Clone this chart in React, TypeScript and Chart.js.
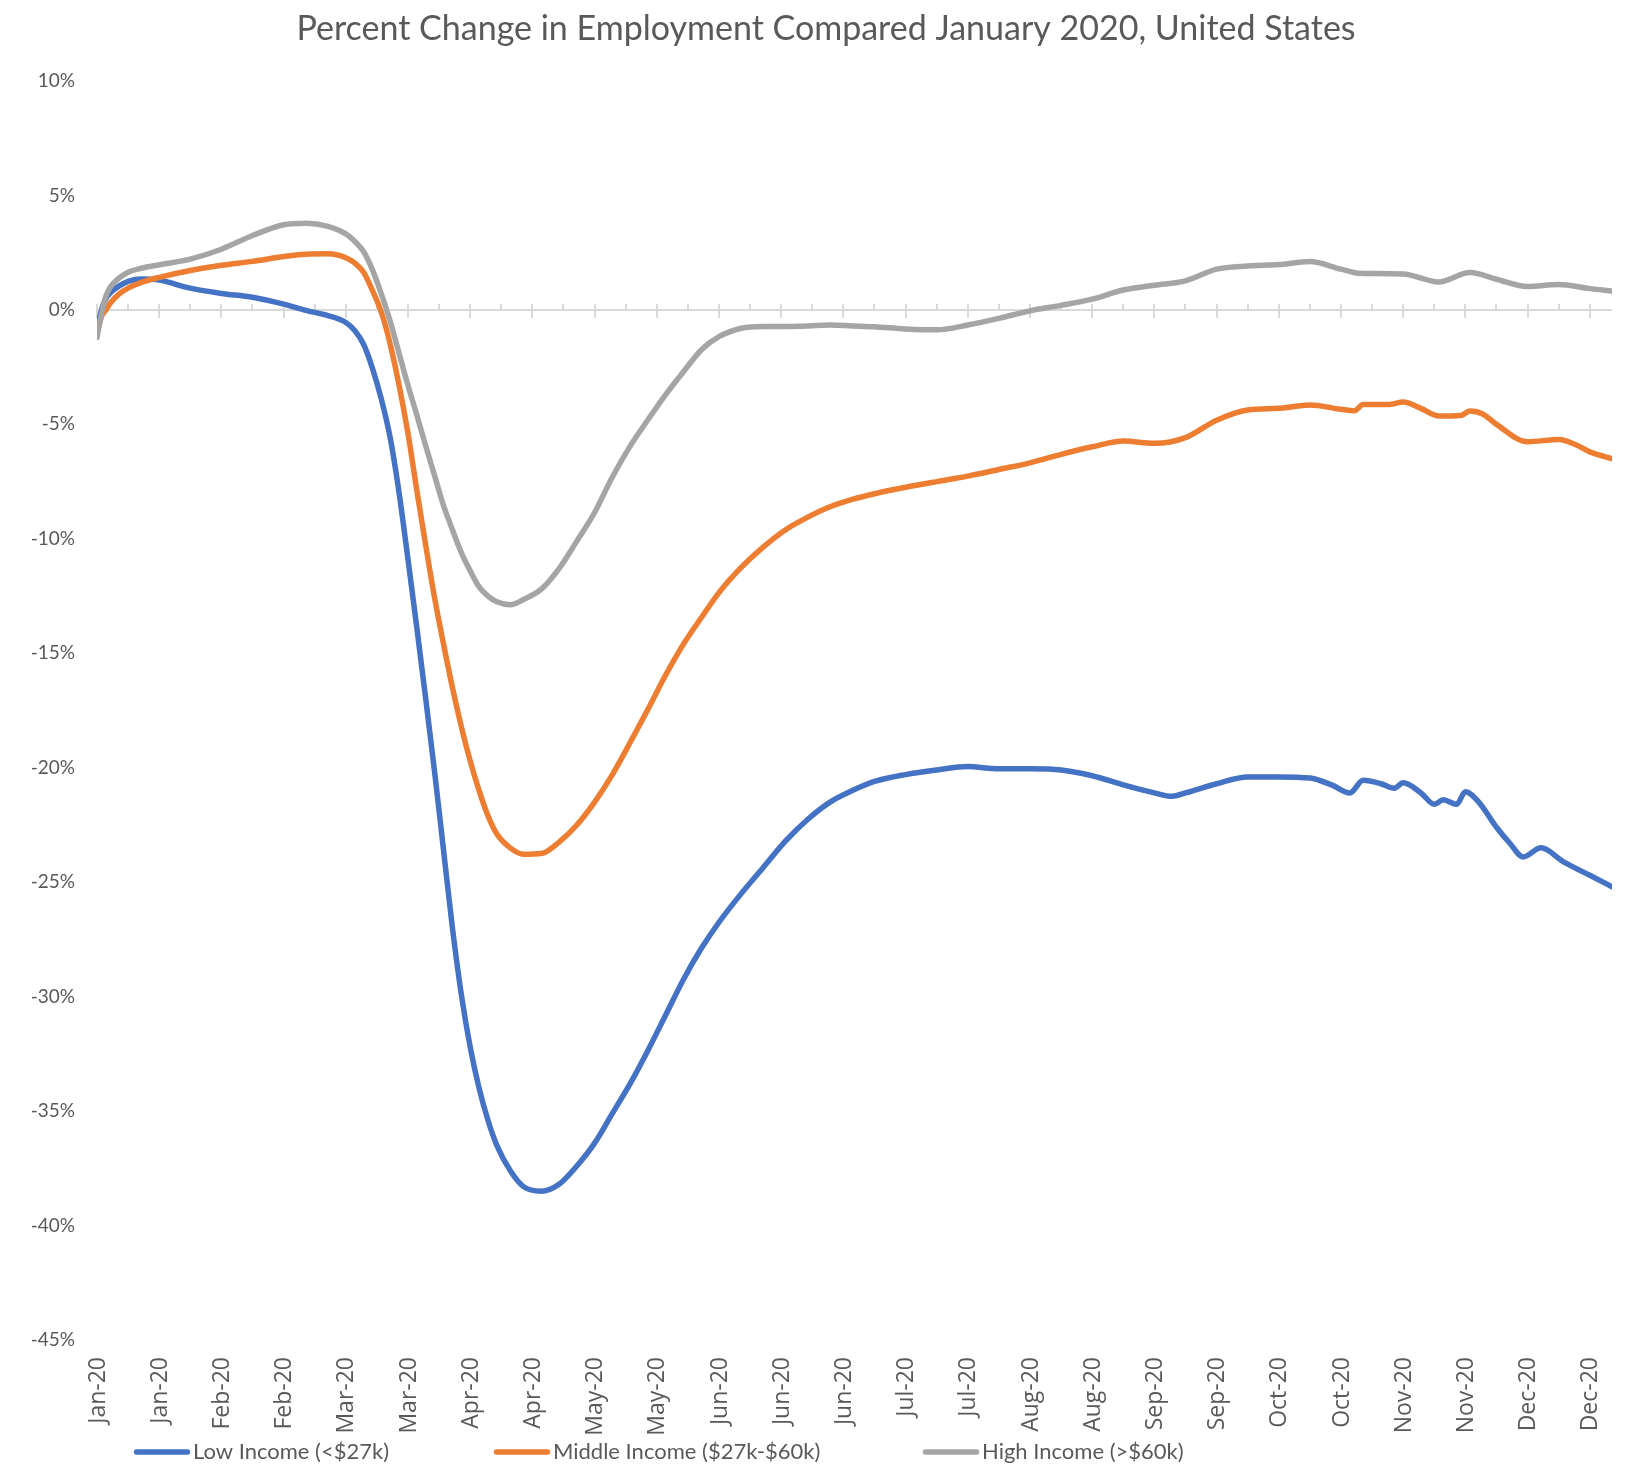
import React, { useEffect, useRef } from 'react';
import { Chart, registerables } from 'chart.js';

Chart.register(...registerables);

const chartTitle = 'Percent Change in Employment Compared January 2020, United States';
const seriesNames = ['Low Income (<$27k)', 'Middle Income ($27k-$60k)', 'High Income (>$60k)'];
const seriesColors = ['#4472C4', '#ED7D31', '#A5A5A5'];

const tickLabels = ['Jan-20', 'Jan-20', 'Feb-20', 'Feb-20', 'Mar-20', 'Mar-20', 'Apr-20', 'Apr-20', 'May-20', 'May-20', 'Jun-20', 'Jun-20', 'Jun-20', 'Jul-20', 'Jul-20', 'Aug-20', 'Aug-20', 'Sep-20', 'Sep-20', 'Oct-20', 'Oct-20', 'Nov-20', 'Nov-20', 'Dec-20', 'Dec-20'];
const labelStep = 14; // days between labels
const minorStep = 7; // days between minor ticks
const lastDay = 341;

const lowDays = [0, 1, 2, 3, 5, 7, 10, 14, 21, 28, 35, 42, 47, 52, 56, 58, 60, 62, 64, 66, 68, 70, 72, 74, 76, 78, 80, 82, 84, 86, 88, 90, 93, 96, 100, 104, 108, 112, 116, 120, 124, 128, 132, 136, 140, 145, 150, 155, 160, 165, 170, 175, 182, 189, 196, 203, 210, 217, 224, 231, 238, 242, 245, 252, 259, 266, 273, 278, 282, 285, 289, 292, 294, 298, 301, 303, 306, 308, 311, 315, 318, 321, 325, 330, 336, 341];
const lowValues = [-0.9, 0.0, 0.5, 0.75, 1.05, 1.25, 1.35, 1.3, 0.95, 0.72, 0.55, 0.25, -0.02, -0.25, -0.55, -0.9, -1.5, -2.55, -3.9, -5.6, -8.0, -10.9, -13.9, -17.0, -20.2, -23.6, -27.0, -29.9, -32.2, -34.0, -35.4, -36.5, -37.6, -38.3, -38.5, -38.2, -37.4, -36.4, -35.1, -33.8, -32.35, -30.8, -29.25, -27.9, -26.75, -25.5, -24.35, -23.2, -22.25, -21.5, -21.0, -20.6, -20.3, -20.1, -19.95, -20.05, -20.05, -20.1, -20.35, -20.75, -21.1, -21.25, -21.1, -20.7, -20.4, -20.4, -20.45, -20.76, -21.1, -20.55, -20.7, -20.9, -20.66, -21.1, -21.6, -21.4, -21.6, -21.05, -21.5, -22.6, -23.3, -23.9, -23.5, -24.1, -24.7, -25.2];

const midDays = [0, 1, 2, 3, 5, 7, 10, 14, 21, 28, 35, 42, 47, 52, 56, 58, 60, 62, 64, 66, 68, 70, 72, 74, 76, 78, 80, 82, 84, 86, 88, 90, 93, 96, 100, 104, 108, 112, 116, 120, 124, 128, 132, 136, 140, 145, 150, 155, 160, 165, 170, 175, 182, 189, 196, 203, 210, 217, 224, 231, 238, 245, 252, 259, 266, 273, 280, 283, 285, 291, 294, 298, 302, 307, 309, 312, 315, 322, 329, 333, 336, 341];
const midValues = [-1.0, -0.3, 0.0, 0.3, 0.7, 0.95, 1.2, 1.42, 1.72, 1.95, 2.12, 2.33, 2.43, 2.45, 2.28, 2.05, 1.65, 0.85, -0.1, -1.5, -3.3, -5.4, -7.9, -10.3, -12.6, -14.6, -16.5, -18.2, -19.7, -21.0, -22.1, -22.9, -23.5, -23.78, -23.75, -23.25, -22.5, -21.5, -20.3, -18.9, -17.45, -15.95, -14.6, -13.45, -12.35, -11.25, -10.35, -9.6, -9.05, -8.6, -8.28, -8.03, -7.75, -7.5, -7.26, -6.97, -6.68, -6.31, -5.98, -5.73, -5.83, -5.58, -4.82, -4.37, -4.3, -4.15, -4.34, -4.4, -4.13, -4.13, -4.02, -4.3, -4.64, -4.61, -4.42, -4.56, -5.0, -5.76, -5.66, -5.9, -6.2, -6.5];

const highDays = [0, 1, 2, 3, 5, 7, 10, 14, 21, 28, 35, 42, 47, 52, 56, 58, 60, 62, 64, 66, 68, 70, 72, 74, 76, 78, 80, 82, 84, 86, 88, 90, 93, 96, 100, 104, 108, 112, 116, 120, 124, 128, 132, 136, 140, 145, 150, 155, 160, 165, 170, 175, 182, 189, 196, 203, 210, 217, 224, 231, 238, 245, 252, 259, 266, 273, 280, 284, 287, 294, 302, 309, 315, 322, 329, 336, 341];
const highValues = [-1.2, -0.2, 0.6, 1.0, 1.4, 1.65, 1.82, 1.97, 2.22, 2.65, 3.25, 3.72, 3.79, 3.65, 3.32, 3.0, 2.55, 1.75, 0.7, -0.5, -1.9, -3.3, -4.6, -5.95, -7.25, -8.55, -9.6, -10.6, -11.4, -12.1, -12.5, -12.75, -12.88, -12.65, -12.2, -11.3, -10.1, -8.85, -7.3, -5.95, -4.8, -3.7, -2.7, -1.75, -1.17, -0.8, -0.72, -0.72, -0.7, -0.66, -0.7, -0.74, -0.83, -0.87, -0.66, -0.37, -0.04, 0.2, 0.47, 0.87, 1.08, 1.27, 1.78, 1.92, 1.98, 2.11, 1.78, 1.6, 1.59, 1.57, 1.22, 1.63, 1.34, 1.02, 1.11, 0.93, 0.83];

const yTicks = [10, 5, 0, -5, -10, -15, -20, -25, -30, -35, -40, -45];

const TEXT = '#595959';
const AXIS = '#D9D9D9';

const zip = (xs: number[], ys: number[]) => xs.map((x, i) => ({ x, y: ys[i] }));

const decorPlugin = {
  id: 'decor',
  beforeDatasetsDraw(chart: any) {
    const { ctx, scales } = chart;
    const x = scales.x;
    const y = scales.y;
    const y0 = Math.round(y.getPixelForValue(0));
    ctx.save();
    ctx.strokeStyle = AXIS;
    ctx.lineWidth = 2;
    ctx.beginPath();
    ctx.moveTo(x.getPixelForValue(0), y0);
    ctx.lineTo(x.getPixelForValue(lastDay), y0);
    ctx.stroke();
    for (let d = 0; d <= lastDay; d += minorStep) {
      const px = Math.round(x.getPixelForValue(d));
      const major = d % labelStep === 0;
      ctx.beginPath();
      ctx.moveTo(px, y0 - 6);
      ctx.lineTo(px, major ? y0 + 8 : y0 + 1);
      ctx.stroke();
    }
    ctx.restore();
  },
  afterDraw(chart: any) {
    const { ctx, scales, chartArea } = chart;
    const x = scales.x;
    ctx.save();
    ctx.fillStyle = TEXT;

    // category labels along the bottom, rotated
    ctx.font = '23px "Open Sans"';
    ctx.textAlign = 'right';
    ctx.textBaseline = 'middle';
    x.ticks.forEach((t: any, i: number) => {
      const px = x.getPixelForValue(t.value);
      ctx.save();
      ctx.translate(px + 1, chartArea.bottom + 17);
      ctx.rotate(-Math.PI / 2);
      ctx.fillText(tickLabels[i] ?? '', 0, 0);
      ctx.restore();
    });

    ctx.font = '34px Lato';
    ctx.textAlign = 'center';
    ctx.textBaseline = 'middle';
    ctx.fillText(chartTitle, 826, 29);

    const legendX = [134, 494, 923];
    const ly = 1452;
    ctx.font = '22px Lato';
    ctx.textAlign = 'left';
    seriesNames.forEach((name, i) => {
      ctx.strokeStyle = seriesColors[i];
      ctx.lineWidth = 5.5;
      ctx.lineCap = 'round';
      ctx.beginPath();
      ctx.moveTo(legendX[i] + 2.5, ly);
      ctx.lineTo(legendX[i] + 53.5, ly);
      ctx.stroke();
      ctx.fillText(name, legendX[i] + 59, ly);
    });
    ctx.restore();
  },
};

export default function App() {
  const ref = useRef<HTMLCanvasElement | null>(null);

  useEffect(() => {
    if (!ref.current) return;
    const tickDays = tickLabels.map((_, i) => i * labelStep);
    const lineOpts = {
      borderWidth: 5.5,
      borderCapStyle: 'round' as const,
      borderJoinStyle: 'round' as const,
      pointRadius: 0,
      pointHoverRadius: 0,
      fill: false,
      cubicInterpolationMode: 'monotone' as const,
    };
    const chart = new Chart(ref.current, {
      type: 'line',
      data: {
        datasets: [
          { label: seriesNames[0], data: zip(lowDays, lowValues), borderColor: seriesColors[0], backgroundColor: seriesColors[0], order: 3, ...lineOpts },
          { label: seriesNames[1], data: zip(midDays, midValues), borderColor: seriesColors[1], backgroundColor: seriesColors[1], order: 2, ...lineOpts },
          { label: seriesNames[2], data: zip(highDays, highValues), borderColor: seriesColors[2], backgroundColor: seriesColors[2], order: 1, ...lineOpts },
        ],
      },
      options: {
        animation: false,
        responsive: false,
        devicePixelRatio: 1,
        events: [],
        layout: { padding: { top: 81, right: 25, bottom: 25, left: 0 } },
        plugins: {
          legend: { display: false },
          title: { display: false },
          tooltip: { enabled: false },
        },
        scales: {
          x: {
            type: 'linear',
            min: 0,
            max: lastDay,
            offset: false,
            grid: { display: false, drawTicks: false },
            border: { display: false },
            afterBuildTicks: (s: any) => {
              s.ticks = tickDays.map((v) => ({ value: v }));
            },
            afterFit: (s: any) => {
              s.height = 100;
            },
            ticks: {
              display: false,
              autoSkip: false,
              callback: (_v: any, i: number) => tickLabels[i] ?? '',
            },
          },
          y: {
            min: -45,
            max: 10,
            grid: { display: false, drawTicks: false },
            border: { display: false },
            afterBuildTicks: (s: any) => {
              s.ticks = yTicks.map((v) => ({ value: v }));
            },
            afterFit: (s: any) => {
              s.width = 97;
            },
            ticks: {
              padding: 22,
              color: TEXT,
              font: { family: 'Lato', size: 19 },
              callback: (v: any) => `${v}%`,
            },
          },
        },
      },
      plugins: [decorPlugin],
    });
    return () => chart.destroy();
  }, []);

  return (
    <div style={{ position: 'absolute', left: 0, top: 0, width: 1637, height: 1465, background: '#fff' }}>
      <canvas ref={ref} width={1637} height={1465} style={{ display: 'block' }} />
    </div>
  );
}
